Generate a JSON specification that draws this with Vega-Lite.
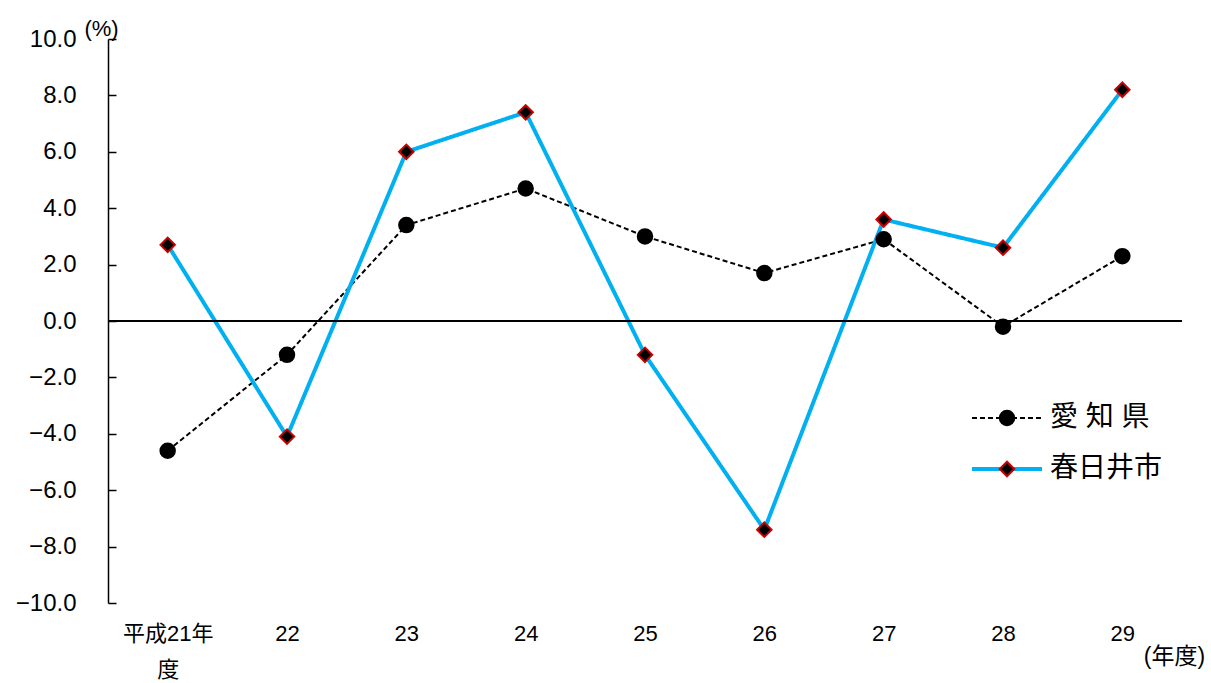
{
  "$schema": "https://vega.github.io/schema/vega-lite/v6.json",
  "width": 1074,
  "height": 564,
  "autosize": "none",
  "padding": {"left": 108, "top": 39, "right": 29, "bottom": 80},
  "background": "white",
  "config": {
    "view": {"stroke": null},
    "font": "'Liberation Sans', 'Noto Sans CJK JP'",
    "axis": {"grid": false, "labelColor": "black", "titleColor": "black", "titleFontWeight": "normal"},
    "legend": {"labelColor": "black"}
  },
  "data": {
    "values": [
      {"年度": "平成21年度", "地域": "愛知県", "値": -4.6},
      {"年度": "22", "地域": "愛知県", "値": -1.2},
      {"年度": "23", "地域": "愛知県", "値": 3.4},
      {"年度": "24", "地域": "愛知県", "値": 4.7},
      {"年度": "25", "地域": "愛知県", "値": 3.0},
      {"年度": "26", "地域": "愛知県", "値": 1.7},
      {"年度": "27", "地域": "愛知県", "値": 2.9},
      {"年度": "28", "地域": "愛知県", "値": -0.2},
      {"年度": "29", "地域": "愛知県", "値": 2.3},
      {"年度": "平成21年度", "地域": "春日井市", "値": 2.7},
      {"年度": "22", "地域": "春日井市", "値": -4.1},
      {"年度": "23", "地域": "春日井市", "値": 6.0},
      {"年度": "24", "地域": "春日井市", "値": 7.4},
      {"年度": "25", "地域": "春日井市", "値": -1.2},
      {"年度": "26", "地域": "春日井市", "値": -7.4},
      {"年度": "27", "地域": "春日井市", "値": 3.6},
      {"年度": "28", "地域": "春日井市", "値": 2.6},
      {"年度": "29", "地域": "春日井市", "値": 8.2}
    ]
  },
  "layer": [
    {
      "mark": {"type": "line"},
      "encoding": {
        "x": {
          "field": "年度", "type": "nominal", "sort": null,
          "scale": {"type": "point", "padding": 0.5},
          "axis": {
            "domain": false, "ticks": false, "labelAngle": 0,
            "labelFontSize": 22, "labelPadding": 20, "labelBaseline": "top", "labelLineHeight": 36,
            "labelExpr": "datum.value == '平成21年度' ? ['平成21年', '度'] : datum.value",
            "title": "(年度)", "titleX": 1066, "titleY": 53, "titleFontSize": 23,
            "titleAlign": "center", "titleBaseline": "middle", "titleAngle": 0
          }
        },
        "y": {
          "field": "値", "type": "quantitative",
          "scale": {"domain": [-10, 10], "nice": false, "zero": false},
          "axis": {
            "values": [-10, -8, -6, -4, -2, 0, 2, 4, 6, 8, 10],
            "format": ".1f",
            "domainColor": "black", "domainWidth": 1.5,
            "tickColor": "black", "tickWidth": 1.5, "tickSize": -8,
            "labelFontSize": 24, "labelPadding": 40,
            "title": "(%)", "titleX": -7, "titleY": -11, "titleFontSize": 22,
            "titleAlign": "center", "titleBaseline": "middle", "titleAngle": 0
          }
        },
        "color": {
          "field": "地域", "type": "nominal",
          "scale": {"range": ["black", "#00b0f0"]},
          "legend": {
            "orient": "none", "legendX": 885, "legendY": 365, "title": null, "zindex": 0,
            "symbolType": "M-5,0H5", "symbolSize": 196,
            "labelFontSize": 28, "labelOffset": 29, "rowPadding": 23,
            "labelExpr": "datum.label == '愛知県' ? '愛 知 県' : datum.label"
          }
        },
        "strokeDash": {
          "field": "地域", "type": "nominal",
          "scale": {"range": [[5, 3], [1, 0]]}
        },
        "strokeWidth": {
          "field": "地域", "type": "nominal",
          "scale": {"range": [2, 4]}
        }
      }
    },
    {
      "mark": {"type": "rule", "color": "black", "strokeWidth": 1.5},
      "encoding": {
        "y": {"datum": 0, "type": "quantitative"}
      }
    },
    {
      "mark": {"type": "point", "filled": true, "fill": "black", "strokeWidth": 2, "opacity": 1, "size": 210},
      "encoding": {
        "x": {"field": "年度", "type": "nominal", "sort": null},
        "y": {"field": "値", "type": "quantitative"},
        "shape": {
          "field": "地域", "type": "nominal",
          "scale": {"domain": ["愛知県", "春日井市"], "range": ["circle", "diamond"]},
          "legend": {
            "orient": "none", "legendX": 885, "legendY": 365, "title": null, "zindex": 1,
            "symbolSize": 210, "symbolStrokeWidth": 2, "symbolFillColor": "black",
            "labelFontSize": 28, "labelOffset": 29, "rowPadding": 23, "labelOpacity": 0,
            "labelExpr": "''"
          }
        },
        "stroke": {
          "field": "地域", "type": "nominal",
          "scale": {"domain": ["愛知県", "春日井市"], "range": ["black", "#cc0000"]}
        }
      }
    }
  ]
}
